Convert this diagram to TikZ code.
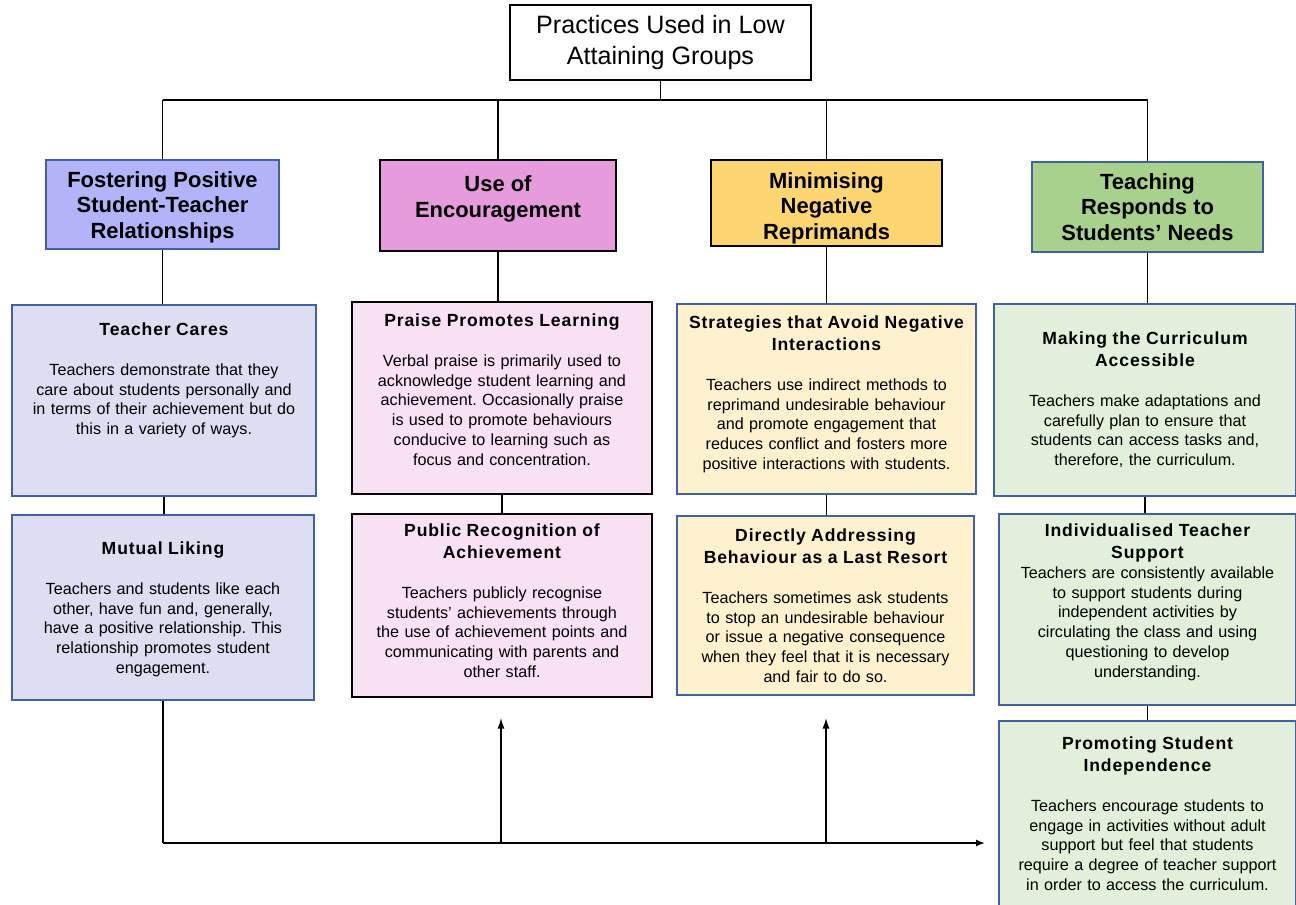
\documentclass[tikz,border=0pt]{standalone}
\usepackage{fontspec}
\setmainfont{Liberation Sans}
\newfontfamily\headfont[LetterSpace=5]{Liberation Sans}
\usetikzlibrary{fit,arrows.meta}

\definecolor{edgeblue}{RGB}{65,97,160}
\definecolor{catA}{RGB}{179,179,250}
\definecolor{catB}{RGB}{229,155,220}
\definecolor{catC}{RGB}{253,214,114}
\definecolor{catD}{RGB}{169,209,142}
\definecolor{subA}{RGB}{222,222,243}
\definecolor{subB}{RGB}{249,225,244}
\definecolor{subC}{RGB}{254,242,206}
\definecolor{subD}{RGB}{226,239,218}

\newcommand{\hd}[1]{{\headfont\fontsize{10}{11.3}\selectfont\bfseries #1}}
\frenchspacing

\tikzset{
  box/.style={draw, line width=0.8pt, inner sep=0pt},
  cattext/.style={inner sep=0pt, align=center, font=\fontsize{12.5}{14.5}\selectfont\bfseries},
  subtext/.style={anchor=north, inner sep=0pt, align=center, text width=5.7cm,
    font=\fontsize{9.2}{11.3}\selectfont},
  link/.style={line width=0.8pt},
}

\begin{document}
\begin{tikzpicture}[x=0.02cm, y=-0.02cm]
\useasboundingbox (0,0) rectangle (1296,904);

% top of the tree
\node[box, fit={(510,5) (811,80)}] (top) {};
\node[inner sep=0pt, align=center, font=\fontsize{14.3}{17.5}\selectfont] (top-t)
  at (top.center) {Practices Used in Low\\Attaining Groups};

% the four themes
\node[box, fill=catA, draw=edgeblue, fit={(46,160) (279,249)}] (foster) {};
\node[cattext, yshift=-0.05cm] (foster-t) at (foster.center)
  {Fostering Positive\\Student-Teacher\\Relationships};
\node[box, fill=catB, fit={(380,160) (616,251)}] (encour) {};
\node[cattext, yshift=0.13cm] (encour-t) at (encour.center)
  {Use of\\Encouragement};
\node[box, fill=catC, fit={(711,160) (942,246)}] (minim) {};
\node[cattext, yshift=-0.1cm] (minim-t) at (minim.center)
  {Minimising\\Negative\\Reprimands};
\node[box, fill=catD, draw=edgeblue, fit={(1032,162) (1263,252)}] (teach) {};
\node[cattext] (teach-t) at (teach.center)
  {Teaching\\Responds to\\Students' Needs};

% first column
\node[box, fill=subA, draw=edgeblue, fit={(12,305) (316,496)}] (cares) {};
\node[subtext, yshift=-0.36cm] (cares-t) at (cares.north)
  {\hd{Teacher Cares}\\[11.4pt]
   Teachers demonstrate that they\\care about students personally and\\
   in terms of their achievement but do\\this in a variety of ways.};
\node[box, fill=subA, draw=edgeblue, fit={(12,515) (314,700)}] (liking) {};
\node[subtext, yshift=-0.54cm] (liking-t) at (liking.north)
  {\hd{Mutual Liking}\\[11.4pt]
   Teachers and students like each\\other, have fun and, generally,\\
   have a positive relationship. This\\relationship promotes student\\engagement.};

% second column
\node[box, fill=subB, fit={(352,302) (652,494)}] (praise) {};
\node[subtext, yshift=-0.24cm] (praise-t) at (praise.north)
  {\hd{Praise Promotes Learning}\\[11.4pt]
   Verbal praise is primarily used to\\acknowledge student learning and\\
   achievement. Occasionally praise\\is used to promote behaviours\\
   conducive to learning such as\\focus and concentration.};
\node[box, fill=subB, fit={(352,514) (652,697)}] (recog) {};
\node[subtext, yshift=-0.20cm] (recog-t) at (recog.north)
  {\hd{Public Recognition of}\\[1.2pt]\hd{Achievement}\\[11.4pt]
   Teachers publicly recognise\\students' achievements through\\
   the use of achievement points and\\communicating with parents and\\other staff.};

% third column
\node[box, fill=subC, draw=edgeblue, fit={(677,304) (976,494)}] (avoid) {};
\node[subtext, yshift=-0.24cm] (avoid-t) at (avoid.north)
  {\hd{Strategies that Avoid Negative}\\[1.2pt]\hd{Interactions}\\[11.4pt]
   Teachers use indirect methods to\\reprimand undesirable behaviour\\
   and promote engagement that\\reduces conflict and fosters more\\
   positive interactions with students.};
\node[box, fill=subC, draw=edgeblue, fit={(677,516) (974,695)}] (direct) {};
\node[subtext, yshift=-0.26cm] (direct-t) at (direct.north)
  {\hd{Directly Addressing}\\[1.2pt]\hd{Behaviour as a Last Resort}\\[11.4pt]
   Teachers sometimes ask students\\to stop an undesirable behaviour\\
   or issue a negative consequence\\when they feel that it is necessary\\
   and fair to do so.};

% fourth column
\node[box, fill=subD, draw=edgeblue, fit={(994,304) (1296,496)}] (access) {};
\node[subtext, yshift=-0.56cm] (access-t) at (access.north)
  {\hd{Making the Curriculum}\\[1.2pt]\hd{Accessible}\\[11.4pt]
   Teachers make adaptations and\\carefully plan to ensure that\\
   students can access tasks and,\\therefore, the curriculum.};
\node[box, fill=subD, draw=edgeblue, fit={(999,514) (1296,705)}] (support) {};
\node[subtext, yshift=-0.20cm] (support-t) at (support.north)
  {\hd{Individualised Teacher}\\[1.2pt]\hd{Support}\\
   Teachers are consistently available\\to support students during\\
   independent activities by\\circulating the class and using\\
   questioning to develop\\understanding.};
\node[box, fill=subD, draw=edgeblue, fit={(999,721) (1296,910)}] (indep) {};
\node[subtext, yshift=-0.32cm] (indep-t) at (indep.north)
  {\hd{Promoting Student}\\[1.2pt]\hd{Independence}\\[11.4pt]
   Teachers encourage students to\\engage in activities without adult\\
   support but feel that students\\require a degree of teacher support\\
   in order to access the curriculum.};

% tree lines
\coordinate (bus) at (top.south |- 0,100);
\draw[link] (top.south) -- (bus);
\draw[line width=1pt] (foster.north |- bus) -- (teach.north |- bus);
\foreach \cat in {foster, encour, minim, teach}
  \draw[link] (\cat.north |- bus) -- (\cat.north);
\draw[link] (foster.south) -- (foster.south |- cares.north);
\draw[link] (encour.south) -- (encour.south |- praise.north);
\draw[link] (minim.south) -- (minim.south |- avoid.north);
\draw[link] (teach.south) -- (teach.south |- access.north);
\draw[link] (cares.south) -- (cares.south |- liking.north);
\draw[link] (praise.south) -- (praise.south |- recog.north);
\draw[link] (avoid.south) -- (avoid.south |- direct.north);
\draw[link] (access.south) -- (access.south |- support.north);
\draw[link] (support.south) -- (support.south |- indep.north);

% bottom arrows
\coordinate (corner) at (liking.south |- 0,843);
\coordinate (tip) at (985,843);
\coordinate (upB) at (501,718);
\coordinate (upC) at (826,718);
\draw[link] (liking.south) -- (corner);
\draw[line width=1.6pt, -{Latex[length=5pt,width=4pt]}] (corner) -- (tip);
\draw[link, -{Latex[length=6pt,width=4pt]}] (upB |- corner) -- (upB);
\draw[link, -{Latex[length=6pt,width=4pt]}] (upC |- corner) -- (upC);
\end{tikzpicture}
\end{document}
